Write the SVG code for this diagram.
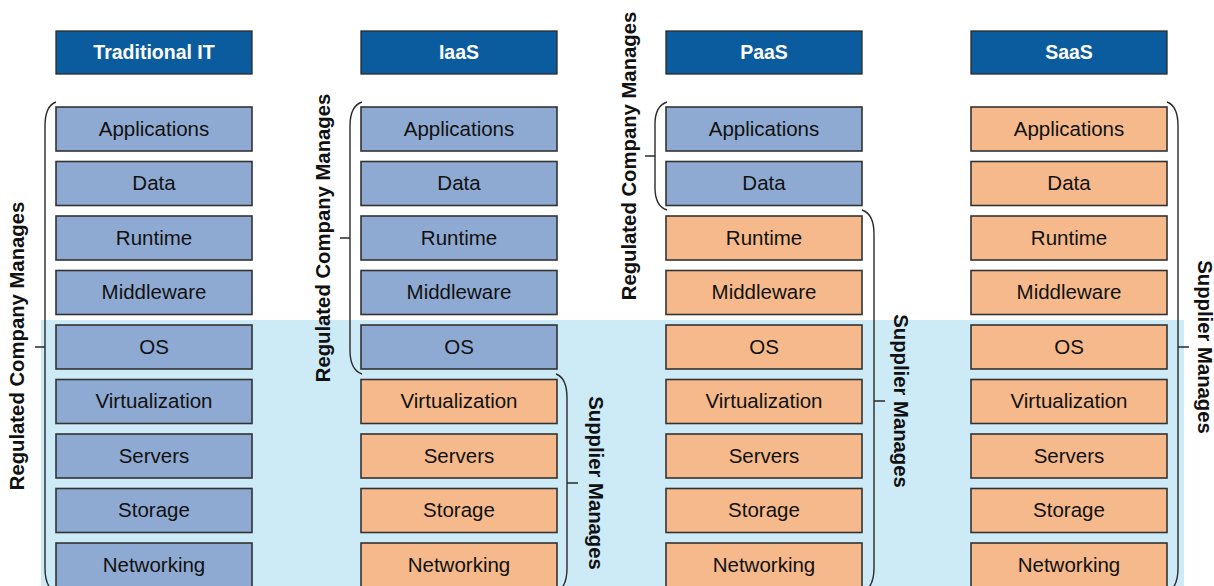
<svg xmlns="http://www.w3.org/2000/svg" width="1214" height="586" viewBox="0 0 1214 586">
<style>
.hdr{fill:#0b5c9e;stroke:#2a2a2a;stroke-width:1.3}
.ht{font-family:"Liberation Sans",Arial,sans-serif;font-weight:bold;font-size:19.5px;fill:#ffffff;text-anchor:middle}
.cm rect{fill:#8eaad2;stroke:#333;stroke-width:1.6}
.sp rect{fill:#f5b98b;stroke:#333;stroke-width:1.6}
.bt{font-family:"Liberation Sans",Arial,sans-serif;font-size:20.5px;fill:#111;text-anchor:middle}
.br{fill:none;stroke:#2a2a2a;stroke-width:1.4}
.lbl{font-family:"Liberation Sans",Arial,sans-serif;font-weight:bold;font-size:20.3px;fill:#111;text-anchor:middle}
</style>
<rect x="0" y="0" width="1214" height="586" fill="#ffffff"/>
<rect id="band" x="41" y="320" width="1143" height="266" fill="#cdeaf7"/>

<g id="col-traditional">
<g id="h1"><rect class="hdr" x="56" y="31" width="196" height="43"/><text class="ht" x="154" y="59">Traditional IT</text></g>
<g class="cm">
<g id="t-app"><rect x="56" y="107" width="196" height="44"/><text class="bt" x="154" y="135.5">Applications</text></g>
<g id="t-data"><rect x="56" y="161.5" width="196" height="44"/><text class="bt" x="154" y="190">Data</text></g>
<g id="t-run"><rect x="56" y="216" width="196" height="44"/><text class="bt" x="154" y="244.5">Runtime</text></g>
<g id="t-mid"><rect x="56" y="270.5" width="196" height="44"/><text class="bt" x="154" y="299">Middleware</text></g>
<g id="t-os"><rect x="56" y="325" width="196" height="44"/><text class="bt" x="154" y="353.5">OS</text></g>
<g id="t-virt"><rect x="56" y="379.5" width="196" height="44"/><text class="bt" x="154" y="408">Virtualization</text></g>
<g id="t-srv"><rect x="56" y="434" width="196" height="44"/><text class="bt" x="154" y="462.5">Servers</text></g>
<g id="t-sto"><rect x="56" y="488.5" width="196" height="44"/><text class="bt" x="154" y="517">Storage</text></g>
<g id="t-net"><rect x="56" y="543" width="196" height="44"/><text class="bt" x="154" y="571.5">Networking</text></g>
</g>
</g>

<g id="col-iaas">
<g id="h2"><rect class="hdr" x="361" y="31" width="196" height="43"/><text class="ht" x="459" y="59">IaaS</text></g>
<g class="cm">
<g id="i-app"><rect x="361" y="107" width="196" height="44"/><text class="bt" x="459" y="135.5">Applications</text></g>
<g id="i-data"><rect x="361" y="161.5" width="196" height="44"/><text class="bt" x="459" y="190">Data</text></g>
<g id="i-run"><rect x="361" y="216" width="196" height="44"/><text class="bt" x="459" y="244.5">Runtime</text></g>
<g id="i-mid"><rect x="361" y="270.5" width="196" height="44"/><text class="bt" x="459" y="299">Middleware</text></g>
<g id="i-os"><rect x="361" y="325" width="196" height="44"/><text class="bt" x="459" y="353.5">OS</text></g>
</g>
<g class="sp">
<g id="i-virt"><rect x="361" y="379.5" width="196" height="44"/><text class="bt" x="459" y="408">Virtualization</text></g>
<g id="i-srv"><rect x="361" y="434" width="196" height="44"/><text class="bt" x="459" y="462.5">Servers</text></g>
<g id="i-sto"><rect x="361" y="488.5" width="196" height="44"/><text class="bt" x="459" y="517">Storage</text></g>
<g id="i-net"><rect x="361" y="543" width="196" height="44"/><text class="bt" x="459" y="571.5">Networking</text></g>
</g>
</g>

<g id="col-paas">
<g id="h3"><rect class="hdr" x="666" y="31" width="196" height="43"/><text class="ht" x="764" y="59">PaaS</text></g>
<g class="cm">
<g id="p-app"><rect x="666" y="107" width="196" height="44"/><text class="bt" x="764" y="135.5">Applications</text></g>
<g id="p-data"><rect x="666" y="161.5" width="196" height="44"/><text class="bt" x="764" y="190">Data</text></g>
</g>
<g class="sp">
<g id="p-run"><rect x="666" y="216" width="196" height="44"/><text class="bt" x="764" y="244.5">Runtime</text></g>
<g id="p-mid"><rect x="666" y="270.5" width="196" height="44"/><text class="bt" x="764" y="299">Middleware</text></g>
<g id="p-os"><rect x="666" y="325" width="196" height="44"/><text class="bt" x="764" y="353.5">OS</text></g>
<g id="p-virt"><rect x="666" y="379.5" width="196" height="44"/><text class="bt" x="764" y="408">Virtualization</text></g>
<g id="p-srv"><rect x="666" y="434" width="196" height="44"/><text class="bt" x="764" y="462.5">Servers</text></g>
<g id="p-sto"><rect x="666" y="488.5" width="196" height="44"/><text class="bt" x="764" y="517">Storage</text></g>
<g id="p-net"><rect x="666" y="543" width="196" height="44"/><text class="bt" x="764" y="571.5">Networking</text></g>
</g>
</g>

<g id="col-saas">
<g id="h4"><rect class="hdr" x="971" y="31" width="196" height="43"/><text class="ht" x="1069" y="59">SaaS</text></g>
<g class="sp">
<g id="s-app"><rect x="971" y="107" width="196" height="44"/><text class="bt" x="1069" y="135.5">Applications</text></g>
<g id="s-data"><rect x="971" y="161.5" width="196" height="44"/><text class="bt" x="1069" y="190">Data</text></g>
<g id="s-run"><rect x="971" y="216" width="196" height="44"/><text class="bt" x="1069" y="244.5">Runtime</text></g>
<g id="s-mid"><rect x="971" y="270.5" width="196" height="44"/><text class="bt" x="1069" y="299">Middleware</text></g>
<g id="s-os"><rect x="971" y="325" width="196" height="44"/><text class="bt" x="1069" y="353.5">OS</text></g>
<g id="s-virt"><rect x="971" y="379.5" width="196" height="44"/><text class="bt" x="1069" y="408">Virtualization</text></g>
<g id="s-srv"><rect x="971" y="434" width="196" height="44"/><text class="bt" x="1069" y="462.5">Servers</text></g>
<g id="s-sto"><rect x="971" y="488.5" width="196" height="44"/><text class="bt" x="1069" y="517">Storage</text></g>
<g id="s-net"><rect x="971" y="543" width="196" height="44"/><text class="bt" x="1069" y="571.5">Networking</text></g>
</g>
</g>

<g id="connectors">
<path class="br" d="M56,102 Q45,106 45,126 V568 Q45,588 56,592 M35,347 H45"/>
<path class="br" d="M362,102 Q350,106 350,126 V350 Q350,370 362,374 M340,238 H350"/>
<path class="br" d="M556,374 Q567,378 567,398 V568 Q567,588 556,592 M567,483 H578"/>
<path class="br" d="M667,102 Q655,106 655,124 V188 Q655,206 667,210 M645,156 H655"/>
<path class="br" d="M862,210 Q874,214 874,234 V568 Q874,588 862,592 M874,401 H885"/>
<path class="br" d="M1167,102 Q1178,106 1178,126 V568 Q1178,588 1167,592 M1178,347 H1189"/>
</g>

<g id="labels">
<text class="lbl" transform="translate(24,346) rotate(-90)">Regulated Company Manages</text>
<text class="lbl" transform="translate(330,238) rotate(-90)">Regulated Company Manages</text>
<text class="lbl" transform="translate(636,156) rotate(-90)">Regulated Company Manages</text>
<text class="lbl" transform="translate(589,483) rotate(90)">Supplier Manages</text>
<text class="lbl" transform="translate(894,401) rotate(90)">Supplier Manages</text>
<text class="lbl" transform="translate(1198,347) rotate(90)">Supplier Manages</text>
</g>
</svg>
